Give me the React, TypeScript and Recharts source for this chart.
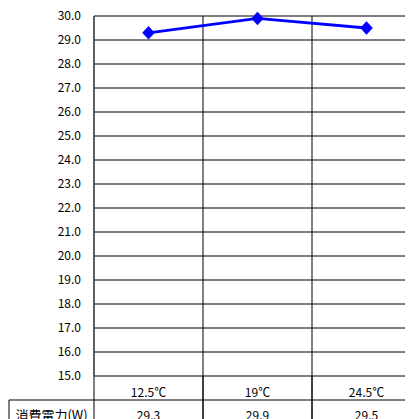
import React from "react";
import { ComposedChart, Line, XAxis, YAxis, CartesianGrid } from "recharts";

const categories = ["12.5℃", "19℃", "24.5℃"];
const power = [29.3, 29.9, 29.5];
const yTicks = [15, 16, 17, 18, 19, 20, 21, 22, 23, 24, 25, 26, 27, 28, 29, 30];
const rowLabel = "消費電力(W)";

const data = categories.map((c, i) => ({ name: c, value: power[i] }));

const FONT = "'Noto Sans CJK JP', 'DejaVu Sans', sans-serif";

const Diamond = (props: any) => {
  const { cx, cy } = props;
  if (cx == null || cy == null) return null;
  const w = 6;
  const h = 6.5;
  return (
    <path
      d={`M${cx},${cy - h}L${cx + w},${cy}L${cx},${cy + h}L${cx - w},${cy}Z`}
      fill="#0000FF"
      stroke="#0000FF"
      strokeWidth={0.5}
    />
  );
};

const TableTick = (props: any) => {
  const { x, y, index, payload } = props;
  const half = payload && payload.offset ? payload.offset : 54.5;
  const left = x - half;
  const right = x + half;
  const top = y;
  const mid = top + 24;
  const bottom = top + 60;
  return (
    <g>
      <line x1={left} y1={top} x2={left} y2={bottom} stroke="#000" strokeWidth={1} />
      <line x1={right} y1={top} x2={right} y2={bottom} stroke="#000" strokeWidth={1} />
      <line x1={left} y1={mid} x2={right} y2={mid} stroke="#000" strokeWidth={1} />
      <text x={x} y={top + 15} textAnchor="middle" dominantBaseline="central" fontSize={12} fontFamily={FONT} fill="#000">
        {payload.value}
      </text>
      <text x={x} y={mid + 14} textAnchor="middle" dominantBaseline="central" fontSize={12} fontFamily={FONT} fill="#000">
        {power[index].toFixed(1)}
      </text>
      {index === 0 && (
        <g>
          <line x1={1} y1={mid} x2={left} y2={mid} stroke="#000" strokeWidth={1} />
          <line x1={1} y1={mid} x2={1} y2={bottom} stroke="#000" strokeWidth={1} />
          <text x={(1 + left) / 2} y={mid + 14} textAnchor="middle" dominantBaseline="central" fontSize={13} fontFamily={FONT} fill="#000">
            {rowLabel}
          </text>
        </g>
      )}
    </g>
  );
};

export default function App() {
  return (
    <div style={{ width: 405, height: 411, overflow: "hidden" }}>
      <ComposedChart
        width={413}
        height={411}
        data={data}
        margin={{ top: 8, right: 0, bottom: 0, left: 0 }}
      >
        <CartesianGrid
          stroke="#000"
          strokeWidth={1}
          strokeOpacity={1}
          horizontalValues={yTicks}
          verticalCoordinatesGenerator={({ offset }: any) =>
            categories.map((_, i) => offset.left + (i * offset.width) / categories.length).concat([offset.left + offset.width])
          }
        />
        <XAxis
          dataKey="name"
          scale="band"
          axisLine={false}
          tickLine={false}
          height={43}
          interval={0}
          tick={<TableTick />}
          tickMargin={0}
          tickSize={0}
        />
        <YAxis
          type="number"
          domain={[15, 30]}
          ticks={yTicks}
          interval={0}
          width={86}
          axisLine={{ stroke: "#555", strokeWidth: 1.5 }}
          tickLine={false}
          tickSize={0}
          tickMargin={13}
          tickFormatter={(v: number) => v.toFixed(1)}
          tick={{ fontSize: 12, fontFamily: FONT, fill: "#000" }}
        />
        <Line
          type="linear"
          dataKey="value"
          stroke="#0000FF"
          strokeWidth={2.8}
          dot={<Diamond />}
          activeDot={false}
          isAnimationActive={false}
        />
      </ComposedChart>
    </div>
  );
}
